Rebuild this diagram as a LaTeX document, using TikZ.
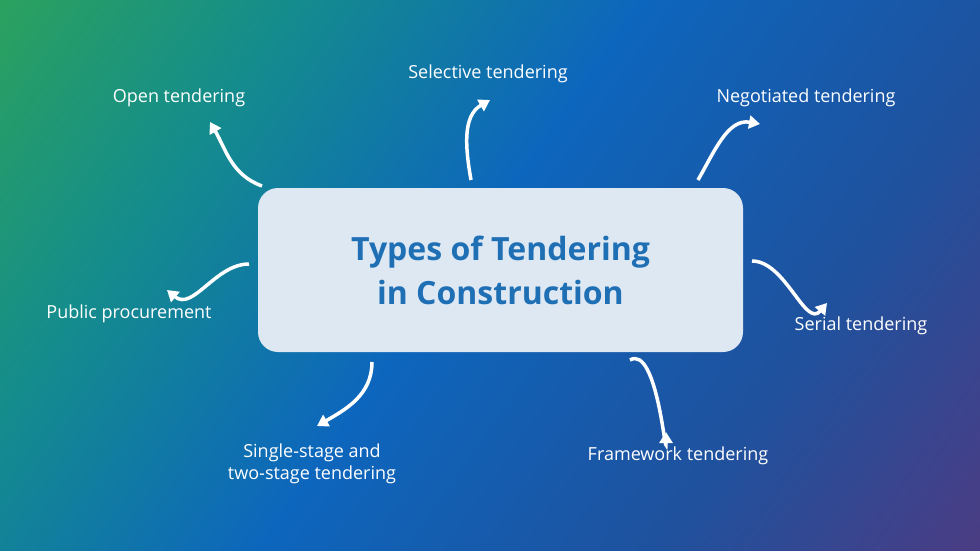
\documentclass[tikz,border=0pt]{standalone}
\usepackage{fontspec}
\setmainfont{Open Sans}
\usetikzlibrary{arrows.meta}
\pgfdeclarehorizontalshading{bgsh}{100bp}{rgb(0bp)=(0.26,0.72,0.18); rgb(30bp)=(0.08,0.55,0.55); rgb(48bp)=(0.05,0.40,0.74); rgb(68bp)=(0.12,0.32,0.62); rgb(100bp)=(0.45,0.16,0.42)}
\begin{document}
\begin{tikzpicture}[x=1pt,y=-1pt,
  lab/.style={text=white,font=\fontsize{18}{22}\selectfont,align=center},
  arr/.style={draw=white,line width=3.5pt,-{Triangle[width=13pt,length=11pt]}}]
\useasboundingbox (0,0) rectangle (980,551);
\shade[shading=bgsh,shading angle=-35] (0,0) rectangle (980,551);
\node[fill={rgb,255:red,222;green,232;blue,243},rounded corners=20pt,minimum width=485pt,minimum height=164pt,text={rgb,255:red,31;green,111;blue,181},font=\bfseries\fontsize{32}{44}\selectfont,align=center] (c) at (500.5,270) {Types of Tendering\\in Construction};
\node[lab] (open) at (179,98) {Open tendering};
\node[lab] (sel) at (488,74) {Selective tendering};
\node[lab] (neg) at (806,98) {Negotiated tendering};
\node[lab] (pub) at (129,314) {Public procurement};
\node[lab] (ser) at (861,326) {Serial tendering};
\node[lab] (fw) at (678,456) {Framework tendering};
\node[lab] (ss) at (312,464) {Single-stage and\\two-stage tendering};
\coordinate (a1) at (262,186); \coordinate (b1) at (210,122);
\coordinate (a2) at (471,180); \coordinate (b2) at (490,100);
\coordinate (a3) at (698,180); \coordinate (b3) at (760,124);
\coordinate (a4) at (752,261); \coordinate (b4) at (827,303);
\coordinate (a5) at (630,360); \coordinate (b5) at (666,432);
\coordinate (a6) at (372,362); \coordinate (b6) at (317,426);
\coordinate (a7) at (249,264); \coordinate (b7) at (167,290);
\draw[arr] (a1) to[out=160,in=-60] (b1);
\draw[arr] (a2) to[out=100,in=-150] (b2);
\draw[arr] (a3) to[out=60,in=170] (b3);
\draw[arr] (a4) to[out=0,in=-130] (b4);
\draw[arr] (a5) to[out=30,in=-90] (b5);
\draw[arr] (a6) to[out=-90,in=30] (b6);
\draw[arr] (a7) to[out=180,in=-40] (b7);
\end{tikzpicture}
\end{document}
